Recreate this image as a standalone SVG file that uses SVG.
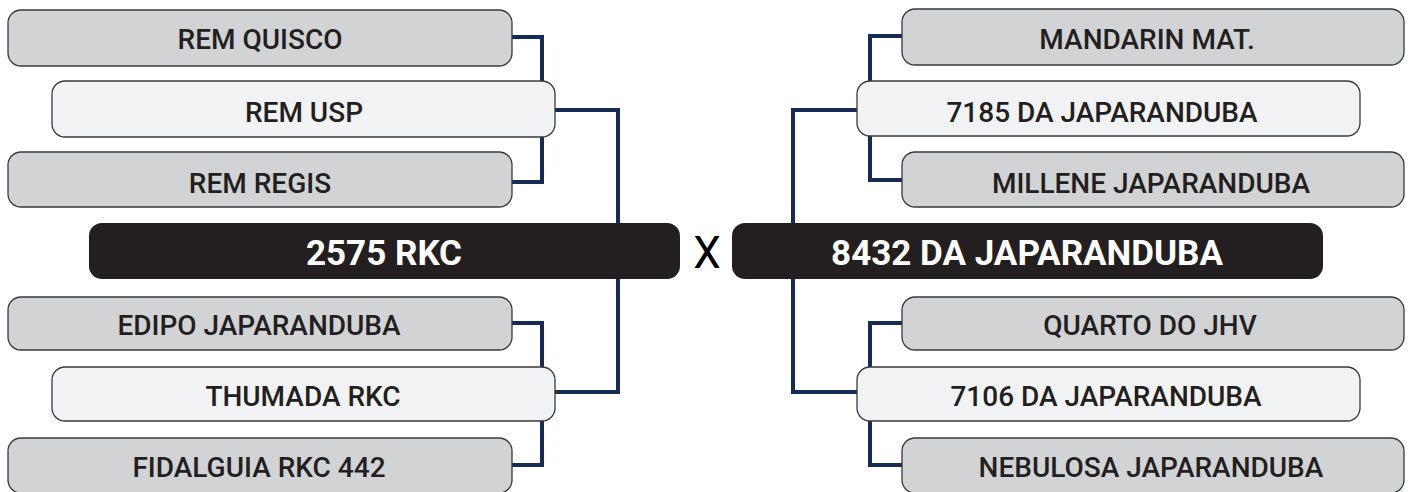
<svg xmlns="http://www.w3.org/2000/svg" width="1410" height="492" viewBox="0 0 1410 492">
<style>
.g{fill:#d1d3d4;stroke:#3a3a3a;stroke-width:1.3}
.l{fill:#f1f2f3;stroke:#3a3a3a;stroke-width:1.3}
.b{fill:#231f20}
.t{font-family:Roboto,"Liberation Sans",sans-serif;font-weight:500;font-size:28px;fill:#231f20;text-anchor:middle}
.tb{font-family:Roboto,"Liberation Sans",sans-serif;font-weight:700;font-size:35px;fill:#ffffff;text-anchor:middle}
.x{font-family:Roboto,"Liberation Sans",sans-serif;font-weight:400;font-size:44px;fill:#000;text-anchor:middle}
.c{fill:none;stroke:#152c56;stroke-width:4}
</style>
<rect width="1410" height="492" fill="#ffffff"/>
<g id="connectors">
<path class="c" d="M512,37 H542 V182 H512"/>
<path class="c" d="M555,110 H618 V392 H555"/>
<path class="c" d="M512,323 H542 V465 H512"/>
<path class="c" d="M902,36 H870 V180 H902"/>
<path class="c" d="M857,110 H793 V392 H857"/>
<path class="c" d="M902,323 H870 V465 H902"/>
</g>
<g id="rem-quisco"><rect class="g" x="8" y="10" width="504" height="56" rx="13"/><text class="t" x="260" y="49">REM QUISCO</text></g>
<g id="rem-usp"><rect class="l" x="52" y="81" width="503" height="56" rx="13"/><text class="t" x="304" y="122">REM USP</text></g>
<g id="rem-regis"><rect class="g" x="8" y="152" width="504" height="55" rx="13"/><text class="t" x="260" y="193">REM REGIS</text></g>
<g id="rkc-2575"><rect class="b" x="89" y="223" width="591" height="56" rx="13"/><text class="tb" x="384" y="265">2575 RKC</text></g>
<g id="edipo"><rect class="g" x="8" y="297" width="504" height="53" rx="13"/><text class="t" x="259" y="335">EDIPO JAPARANDUBA</text></g>
<g id="thumada"><rect class="l" x="52" y="367" width="503" height="54" rx="13"/><text class="t" x="303" y="406">THUMADA RKC</text></g>
<g id="fidalguia"><rect class="g" x="8" y="438" width="504" height="55" rx="13"/><text class="t" x="259" y="477">FIDALGUIA RKC 442</text></g>
<g id="versus"><text class="x" x="707" y="268">X</text></g>
<g id="mandarin"><rect class="g" x="902" y="9" width="502" height="56" rx="13"/><text class="t" x="1147" y="49">MANDARIN MAT.</text></g>
<g id="japaranduba-7185"><rect class="l" x="857" y="81" width="503" height="55" rx="13"/><text class="t" x="1102" y="122">7185 DA JAPARANDUBA</text></g>
<g id="millene"><rect class="g" x="902" y="152" width="502" height="55" rx="13"/><text class="t" x="1151" y="193">MILLENE JAPARANDUBA</text></g>
<g id="japaranduba-8432"><rect class="b" x="732" y="223" width="591" height="56" rx="13"/><text class="tb" x="1027" y="265">8432 DA JAPARANDUBA</text></g>
<g id="quarto"><rect class="g" x="902" y="297" width="502" height="53" rx="13"/><text class="t" x="1150" y="335">QUARTO DO JHV</text></g>
<g id="japaranduba-7106"><rect class="l" x="857" y="367" width="503" height="54" rx="13"/><text class="t" x="1106" y="406">7106 DA JAPARANDUBA</text></g>
<g id="nebulosa"><rect class="g" x="902" y="438" width="502" height="55" rx="13"/><text class="t" x="1151" y="477">NEBULOSA JAPARANDUBA</text></g>
</svg>
